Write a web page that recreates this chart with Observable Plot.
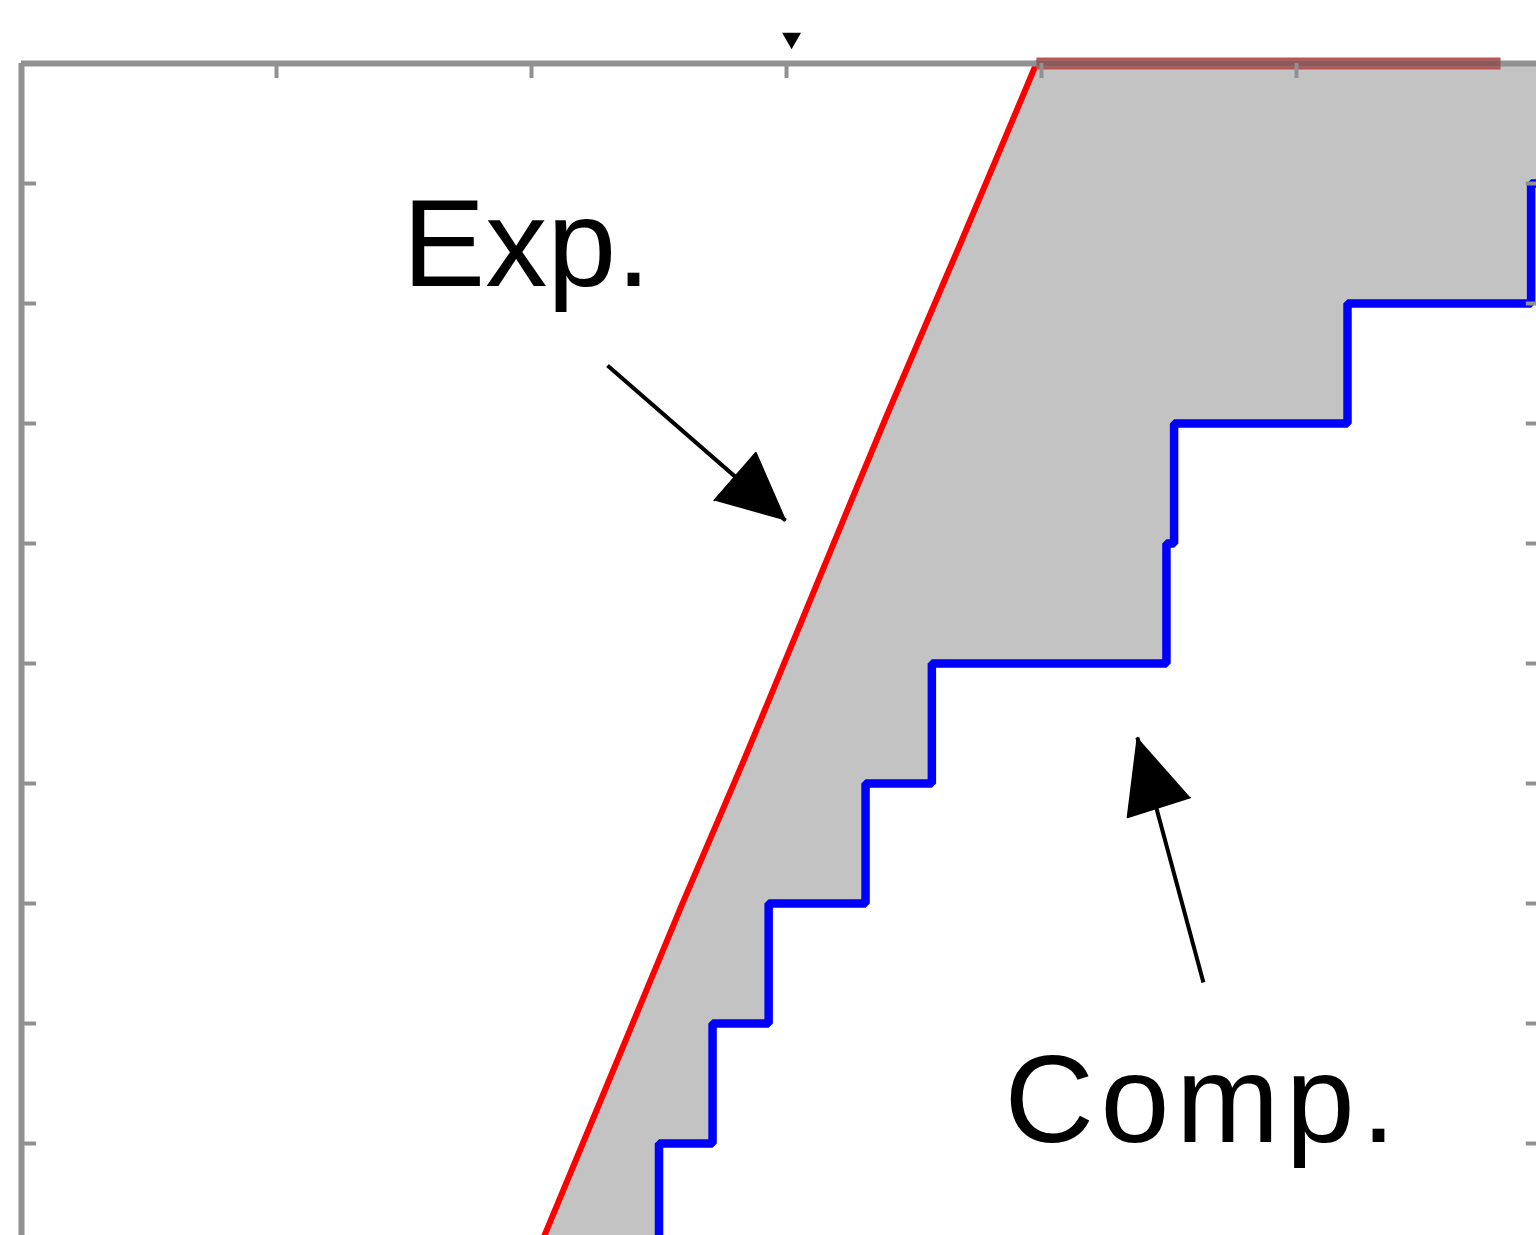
<!DOCTYPE html>
<html><head><meta charset="utf-8">
<script src="https://cdn.jsdelivr.net/npm/d3@7"></script>
<script src="https://cdn.jsdelivr.net/npm/@observablehq/plot@0.6"></script>
<style>html,body{margin:0;padding:0;background:#fff;overflow:hidden}</style>
</head><body><div id="chart"></div>
<script>
// ---- data ----
const xTicks = [1, 2, 3, 4, 5];
const yTicks = [1, 2, 3, 4, 5, 6, 7, 8, 9];
// "Exp." curve (red)
const expX = [2.00, 2.05, 2.59, 2.83, 3.07, 3.39, 3.69, 3.98, 5.80];
const expY = [0.00, 0.23, 2.99, 4.18, 5.41, 7.05, 8.54, 10.00, 10.00];
// "Comp." staircase (blue): x of each riser, y of its lower end
const compX = [2.50, 2.71, 2.93, 3.31, 3.57, 4.49, 4.52, 5.20, 5.92, 6.30];
const compY = [0, 1, 2, 3, 4, 5, 6, 7, 8, 9];
// annotations
const labelText = ["Exp.", "Comp."];
const labelX = [1.494, 3.855];
const labelY = [8.15, 1.01];
const arrowStartX = [2.298, 4.635];
const arrowStartY = [7.483, 2.342];
const arrowTipX = [2.996, 4.376];
const arrowTipY = [6.192, 4.383];
const headX = [[2.996, 2.880, 2.716], [4.376, 4.337, 4.584]];
const headY = [[6.192, 6.758, 6.358], [4.383, 3.717, 3.883]];
const markerX = [3.02];
const markerY = [10.21];
const xMin = 0, xMax = 5.96, yTop = 10;

// ---- derived tables ----
const expPts = expX.map((x, i) => ({x, y: expY[i]}));
const expRise = expPts.filter((d, i) => i <= expY.indexOf(yTop));
const expTop = expPts.filter(d => d.y === yTop);
const compPts = compX.map((x, i) => ({x, y: compY[i]}));
const fillPoly = [...expPts, {x: compX[compX.length - 1], y: yTop}];
for (let i = compX.length - 1; i >= 0; i--) {
  fillPoly.push({x: compX[i], y: compY[i] + 1});
  fillPoly.push({x: compX[i], y: compY[i]});
}
const headPts = [];
headX.forEach((hx, k) => hx.forEach((x, j) => headPts.push({x, y: headY[k][j], k})));
const idx2 = [0, 1];

const W = 1536, H = 1235, mL = 21, mT = 63;
const pxX = 255, pxY = 120;           // pixels per unit
const tickLenX = 15 / pxX, tickLenY = 15 / pxY;
const axisGray = "#919191";

const plot = Plot.plot({
  width: W, height: H,
  marginLeft: mL, marginRight: 0, marginTop: mT, marginBottom: 0,
  x: {domain: [xMin, (W - mL) / pxX], axis: null},
  y: {domain: [yTop - (H - mT) / pxY, yTop], axis: null},
  style: {background: "#fff"},
  marks: [
    Plot.line(fillPoly, {x: "x", y: "y", fill: "#c3c3c3", stroke: "none"}),
    Plot.line(expRise, {x: "x", y: "y", curve: "catmull-rom", stroke: "#ff0000", strokeWidth: 6}),
    Plot.line(expTop, {x: "x", y: "y", stroke: "#c05252", strokeWidth: 12, strokeLinecap: "butt"}),
    Plot.line(compPts, {x: "x", y: "y", curve: "step-before", stroke: "#0000ff", strokeWidth: 8.5,
      strokeLinejoin: "miter", strokeLinecap: "butt"}),
    // frame
    Plot.ruleY([yTop], {y: d => d, x1: () => xMin, x2: () => xMax, stroke: axisGray, strokeWidth: 6}),
    Plot.ruleX([xMin], {x: d => d, y1: () => yTop - (H - mT) / pxY - 1, y2: () => yTop, stroke: axisGray, strokeWidth: 6}),
    Plot.line(expTop, {x: "x", y: "y", stroke: "#8b5a5a", strokeWidth: 6, strokeLinecap: "butt"}),
    Plot.ruleX(xTicks, {x: d => d, y1: () => yTop, y2: () => yTop - tickLenY, stroke: axisGray, strokeWidth: 4}),
    Plot.ruleY(yTicks, {y: d => d, x1: () => xMin, x2: () => xMin + tickLenX, stroke: axisGray, strokeWidth: 4}),
    Plot.ruleY(yTicks, {y: d => d, x1: () => xMax - tickLenX, x2: () => xMax, stroke: axisGray, strokeWidth: 4}),
    // marker
    Plot.dot(markerX, {x: d => d, y: (d, i) => markerY[i], symbol: "triangle", r: 7, rotate: 180, fill: "#000", stroke: "none"}),
    // annotations
    Plot.link(idx2, {x1: i => arrowStartX[i], y1: i => arrowStartY[i], x2: i => arrowTipX[i], y2: i => arrowTipY[i],
      stroke: "#000", strokeWidth: 4}),
    Plot.line(headPts, {x: "x", y: "y", z: "k", fill: "#000", stroke: "#000", strokeWidth: 1.5}),
    Plot.text(idx2, {x: i => labelX[i], y: i => labelY[i], text: i => labelText[i],
      textAnchor: "start", lineAnchor: "bottom", fontSize: 124,
      fontFamily: "'Liberation Sans', Arial, Helvetica, sans-serif", fill: "#000"})
  ]
});
// wider tracking on the "Comp." label, as in the original
d3.select(plot).selectAll("text").filter(function() { return this.textContent === "Comp."; })
  .style("letter-spacing", "6.5px");
document.getElementById("chart").appendChild(plot);
</script>
</body></html>
